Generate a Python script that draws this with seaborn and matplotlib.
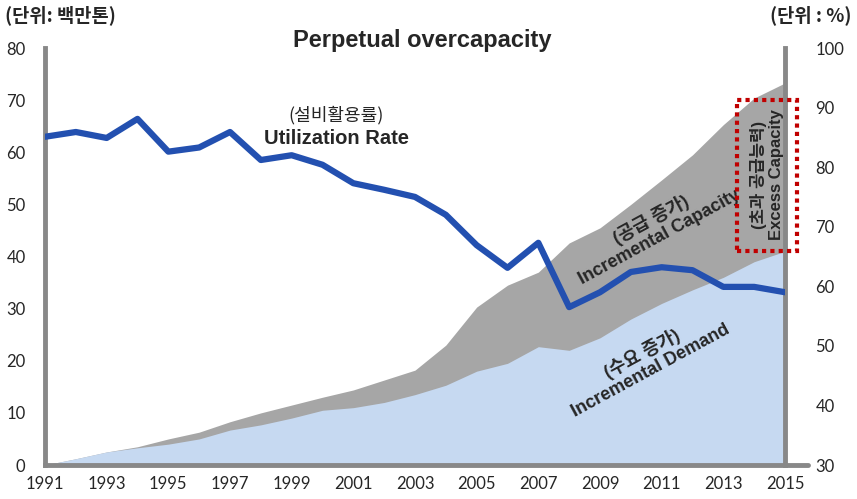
import numpy as np
import pandas as pd
import seaborn as sns
import matplotlib.pyplot as plt
from matplotlib.patches import Rectangle

# -------------------------
# Data
# -------------------------
years = list(range(1991, 2016))

# Capacity (million tons, left axis) - gray area top
capacity = [0.0, 1.2, 2.5, 3.5, 5.0, 6.3, 8.3, 10.0, 11.5, 13.0, 14.4, 16.3, 18.2,
            23.0, 30.3, 34.5, 37.0, 42.6, 45.5, 50.0, 54.7, 59.5, 65.3, 70.4, 73.3]

# Demand (million tons, left axis) - light blue area top
demand = [0.0, 1.2, 2.5, 3.3, 4.0, 5.0, 6.7, 7.7, 9.0, 10.5, 11.0, 12.0, 13.5,
          15.3, 18.0, 19.5, 22.7, 22.0, 24.4, 28.0, 31.0, 33.6, 36.0, 39.0, 41.0]

# Utilization rate (%, right axis)
utilization = [85.1, 85.9, 84.9, 88.1, 82.6, 83.3, 85.9, 81.2, 82.0, 80.4, 77.3, 76.2, 75.0,
               72.0, 66.9, 63.1, 67.3, 56.5, 59.0, 62.4, 63.2, 62.7, 59.9, 59.9, 59.0]

df = pd.DataFrame({'Year': years, 'Capacity': capacity, 'Demand': demand,
                   'Utilization': utilization})

# -------------------------
# Style
# -------------------------
sns.set_style("white")
plt.rcParams['font.family'] = ['Noto Sans CJK KR', 'DejaVu Sans']
mixed = ['Liberation Sans', 'Noto Sans CJK KR', 'DejaVu Sans']

gray_area = '#a6a6a6'
blue_area = '#c6d9f1'
line_blue = '#2350b0'
spine_gray = '#888888'

fig = plt.figure(figsize=(8.57, 4.99), dpi=100)
ax = fig.add_axes([45 / 857, 34 / 499, 740 / 857, 417 / 499])

# areas on left axis
ax.fill_between(df['Year'], 0, df['Capacity'], color=gray_area, lw=0, zorder=1)
ax.fill_between(df['Year'], 0, df['Demand'], color=blue_area, lw=0, zorder=2)

ax.set_xlim(1991, 2015)
ax.set_ylim(0, 80)
ax.set_xticks(years[::2])
ax.set_xticklabels([str(y) for y in years[::2]], fontsize=12, family='Lato')
ax.set_yticks(range(0, 81, 10))
ax.set_yticklabels([str(v) for v in range(0, 81, 10)], fontsize=12, family='Lato')
ax.tick_params(axis='both', length=0, pad=14)
ax.tick_params(axis='x', pad=8)

for side in ['top', 'right']:
    ax.spines[side].set_visible(False)
for side in ['left', 'bottom']:
    ax.spines[side].set_color(spine_gray)
    ax.spines[side].set_linewidth(3.5)

# utilization line on right axis
ax2 = ax.twinx()
sns.lineplot(data=df, x='Year', y='Utilization', ax=ax2, color=line_blue,
             linewidth=4.5, solid_joinstyle='round', solid_capstyle='round', zorder=5)
ax2.set_ylim(30, 100)
ax2.set_xlim(1991, 2015)
ax2.set_ylabel('')
ax2.set_xlabel('')
ax.set_xlabel('')
ax2.set_yticks(range(30, 101, 10))
ax2.set_yticklabels([str(v) for v in range(30, 101, 10)], fontsize=12, family='Lato')
ax2.tick_params(axis='y', length=0, pad=22)
for side in ['top', 'left', 'bottom']:
    ax2.spines[side].set_visible(False)
ax2.spines['right'].set_color(spine_gray)
ax2.spines['right'].set_linewidth(3.5)

# bottom spine extension to the right
fig.add_artist(plt.Line2D([785 / 857, 808 / 857], [34 / 499, 34 / 499],
                          transform=fig.transFigure, color=spine_gray, lw=3.5))

# -------------------------
# Text
# -------------------------
def fx(px):
    return px / 857

def fy(py):
    return 1 - py / 499

fig.text(fx(5), fy(15), '(단위: 백만톤)', fontsize=13.5, fontweight='bold',
         ha='left', va='center')
fig.text(fx(852), fy(15), '(단위 : %)', fontsize=13.5, fontweight='bold',
         ha='right', va='center')
fig.text(fx(422), fy(40), 'Perpetual overcapacity', fontsize=17, fontweight='bold',
         ha='center', va='center', family=mixed)

fig.text(fx(336), fy(115), '(설비활용률)', fontsize=13, ha='center', va='center')
fig.text(fx(336), fy(138), 'Utilization Rate', fontsize=14.5, fontweight='bold',
         ha='center', va='center', family=mixed)

fig.text(fx(655), fy(228), '(공급 증가)\nIncremental Capacity', fontsize=13,
         fontweight='bold', ha='center', va='center', rotation=28.5,
         rotation_mode='anchor', linespacing=1.1, family=mixed)
fig.text(fx(646), fy(362), '(수요 증가)\nIncremental Demand', fontsize=13,
         fontweight='bold', ha='center', va='center', rotation=28.5,
         rotation_mode='anchor', linespacing=1.1, family=mixed)

fig.text(fx(767), fy(175), '(초과 공급능력)\nExcess Capacity', fontsize=12,
         fontweight='bold', ha='center', va='center', rotation=90,
         linespacing=1.1, family=mixed)

box = Rectangle((fx(737), fy(251)), fx(797) - fx(737), fy(100) - fy(251),
                transform=fig.transFigure, fill=False, edgecolor='#c00000',
                linestyle=(0, (1, 1)), linewidth=3, zorder=10)
fig.add_artist(box)

plt.savefig('out.png', dpi=100)
